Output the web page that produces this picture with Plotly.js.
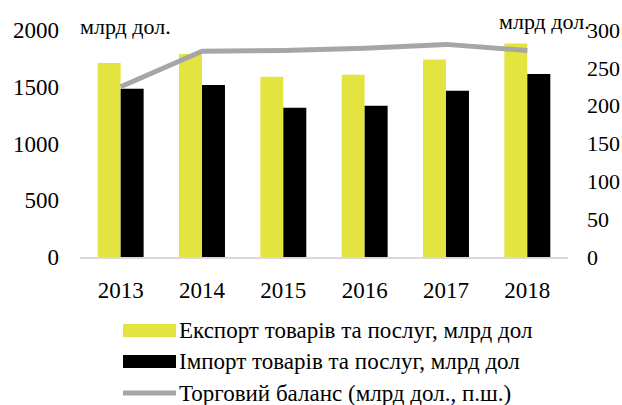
<!DOCTYPE html>
<html>
<head>
<meta charset="utf-8">
<script src="https://cdn.plot.ly/plotly-3.0.1.min.js"></script>
<style>html,body{margin:0;padding:0;background:#fff}#chart{width:622px;height:405px}</style>
</head>
<body>
<div id="chart"></div>
<script>
const years = ['2013', '2014', '2015', '2016', '2017', '2018'];
const exportVals = [1709, 1789, 1589, 1606, 1741, 1882];
const importVals = [1483, 1515, 1315, 1333, 1465, 1612];
const balanceVals = [225, 272, 273, 276, 281, 273];
const leftTicks = [0, 500, 1000, 1500, 2000];
const rightTicks = [0, 50, 100, 150, 200, 250, 300];
const seriesNames = ['Експорт товарів та послуг, млрд дол', 'Імпорт товарів та послуг, млрд дол', 'Торговий баланс (млрд дол., п.ш.)'];
const unitLabel = 'млрд дол.';

const FONT = '"Liberation Serif", "Times New Roman", serif';
const YELLOW = '#E4E441';
const GRAY = '#A6A6A6';
const FS = 22;
const LFS = 23;

const traces = [
  {type: 'bar', x: years, y: exportVals, name: seriesNames[0], marker: {color: YELLOW}, showlegend: false, hoverinfo: 'none'},
  {type: 'bar', x: years, y: importVals, name: seriesNames[1], marker: {color: '#000000'}, showlegend: false, hoverinfo: 'none'},
  {type: 'scatter', mode: 'lines', x: years, y: balanceVals, yaxis: 'y2', name: seriesNames[2], line: {color: GRAY, width: 5}, showlegend: false, hoverinfo: 'none'}
];

const W = 622, H = 405;
const L = 80, R = 568, T = 30, B = 257;
const px = v => (v - L) / (R - L);
const py = v => (B - v) / (B - T);

const annotations = [
  {text: unitLabel, xref: 'paper', yref: 'paper', x: px(78), y: py(27), xanchor: 'left', yanchor: 'middle', showarrow: false, font: {family: FONT, size: FS, color: '#000'}},
  {text: unitLabel, xref: 'paper', yref: 'paper', x: px(592), y: py(22), xanchor: 'right', yanchor: 'middle', showarrow: false, font: {family: FONT, size: FS, color: '#000'}}
];
// custom legend
const legendY = [330.5, 361.5, 393];
const legColors = [YELLOW, '#000000', GRAY];
const shapes = [];
for (let i = 0; i < 3; i++) {
  if (i < 2) {
    shapes.push({type: 'rect', xref: 'paper', yref: 'paper', x0: px(123), x1: px(176), y0: py(legendY[i] + 6.5), y1: py(legendY[i] - 6.5), fillcolor: legColors[i], line: {width: 0}});
  } else {
    shapes.push({type: 'line', xref: 'paper', yref: 'paper', x0: px(123), x1: px(176), y0: py(legendY[i]), y1: py(legendY[i]), line: {color: GRAY, width: 5}});
  }
  annotations.push({text: seriesNames[i], xref: 'paper', yref: 'paper', x: px(177), y: py(legendY[i]), xanchor: 'left', yanchor: 'middle', showarrow: false, font: {family: FONT, size: LFS, color: '#000'}});
}

const layout = {
  width: W, height: H,
  margin: {l: L, r: W - R, t: T, b: H - B},
  paper_bgcolor: '#fff', plot_bgcolor: '#fff',
  barmode: 'group', bargap: 0.435, bargroupgap: 0,
  font: {family: FONT, size: FS, color: '#000'},
  xaxis: {showgrid: false, zeroline: false, showline: true, linecolor: '#D9D9D9', linewidth: 1.5, ticks: '', tickfont: {family: FONT, size: LFS}, ticklabelstandoff: 12},
  yaxis: {range: [0, 2000], tickvals: leftTicks, showgrid: false, zeroline: false, showline: false, ticks: '', tickfont: {family: FONT, size: LFS}, ticklabelstandoff: 20},
  yaxis2: {range: [0, 300], tickvals: rightTicks, overlaying: 'y', side: 'right', showgrid: false, zeroline: false, showline: false, ticks: '', tickfont: {family: FONT, size: FS}, ticklabelstandoff: 18},
  shapes: shapes,
  annotations: annotations,
  showlegend: false
};

Plotly.newPlot('chart', traces, layout, {displayModeBar: false, staticPlot: true});
</script>
</body>
</html>
